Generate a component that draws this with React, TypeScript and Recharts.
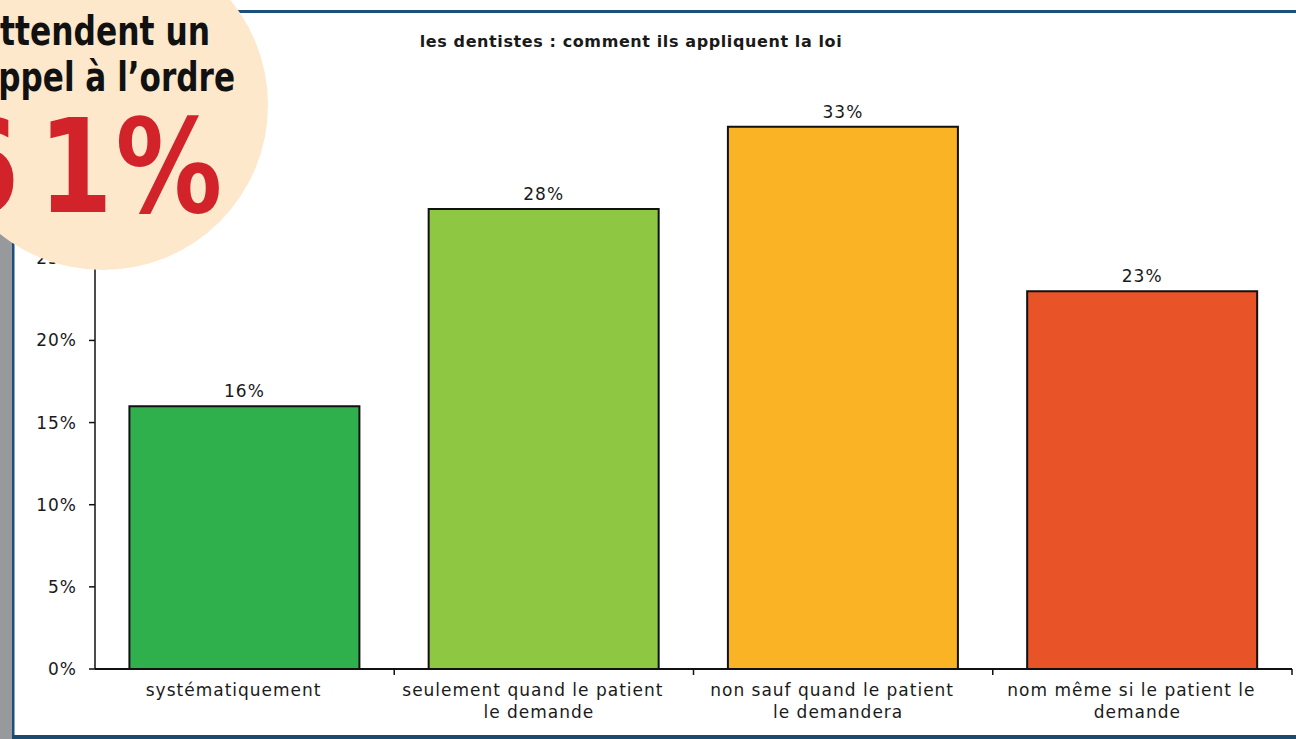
import React from 'react';
import { BarChart, Bar, XAxis, YAxis, Cell, LabelList } from 'recharts';

// données
const categories = [
  'systématiquement',
  'seulement quand le patient\nle demande',
  'non sauf quand le patient\nle demandera',
  'nom même si le patient le\ndemande',
];
const shares = [16, 28, 33, 23];
const barColors = ['#2fb04c', '#8ec843', '#f9b324', '#e85428'];
const yTicks = [0, 5, 10, 15, 20, 25, 30, 35];
const chartTitle = 'les dentistes : comment ils appliquent la loi';
const calloutLines = ['attendent un', 'rappel à l’ordre'];
const calloutValue = '61%';

const data = categories.map((name, i) => ({ name, share: shares[i] }));

const FONT = "'DejaVu Sans', Verdana, sans-serif";
const NARROW = "'Liberation Sans Narrow', 'DejaVu Sans Condensed', 'Liberation Sans', sans-serif";
const INK = '#1a1a1a';

const CategoryTick = (props: any) => {
  const { x, y, payload } = props;
  const half = payload && payload.offset ? payload.offset : 149.6;
  const lines = String(payload.value).split('\n');
  return (
    <g>
      <line x1={x + half} x2={x + half} y1={y - 8} y2={y - 2} stroke="#111" strokeWidth={1.5} />
      <text x={x} y={y} textAnchor="middle" fontSize={17} fill={INK} fontFamily={FONT} letterSpacing={1}>
        {lines.map((line, i) => (
          <tspan key={i} x={x + (i === 0 ? -11 : -5)} dy={i === 0 ? 19 : 22}>
            {line}
          </tspan>
        ))}
      </text>
    </g>
  );
};

export default function App() {
  return (
    <div
      style={{
        position: 'absolute',
        left: 0,
        top: 0,
        width: 1296,
        height: 739,
        overflow: 'hidden',
        background: '#fff',
      }}
    >
      {/* cadre */}
      <svg width={1296} height={739} style={{ position: 'absolute', left: 0, top: 0 }}>
        <rect x={0} y={0} width={12} height={739} fill="#97999c" />
        <rect x={12} y={10} width={2.5} height={729} fill="#1d4f7c" />
        <rect x={0} y={10} width={1296} height={3} fill="#1d4f7c" />
        <rect x={12} y={735} width={1284} height={4} fill="#1b4a6e" />
        <text x={631} y={47} textAnchor="middle" fontSize={16} fontWeight="bold" fill={INK} fontFamily={FONT} letterSpacing={0.6}>
          {chartTitle}
        </text>
      </svg>

      <div style={{ position: 'absolute', left: 0, top: 0 }}>
        <BarChart
          width={1296}
          height={739}
          data={data}
          margin={{ top: 94, right: 4, bottom: 0, left: 0 }}
          barCategoryGap="11.5%"
        >
          <XAxis
            dataKey="name"
            interval={0}
            height={70}
            tickLine={false}
            tickSize={6}
            tickMargin={2}
            axisLine={{ stroke: '#111', strokeWidth: 2 }}
            tick={<CategoryTick />}
          />
          <YAxis
            width={95}
            domain={[0, 35]}
            ticks={yTicks}
            interval={0}
            tickFormatter={(v: number) => `${v}%`}
            tickSize={6}
            tickMargin={12}
            axisLine={{ stroke: '#111', strokeWidth: 1.5 }}
            tickLine={{ stroke: '#111', strokeWidth: 1.5 }}
            tick={{ fontSize: 17, fill: INK, fontFamily: FONT, letterSpacing: 1 }}
          />
          <Bar dataKey="share" stroke="#111" strokeWidth={2} isAnimationActive={false}>
            {data.map((d, i) => (
              <Cell key={d.name} fill={barColors[i]} />
            ))}
            <LabelList
              dataKey="share"
              position="top"
              offset={9}
              formatter={(v: any) => `${v}%`}
              style={{ fontSize: 17, fill: INK, fontFamily: FONT, letterSpacing: 1 }}
            />
          </Bar>
        </BarChart>
      </div>

      {/* pastille */}
      <svg width={1296} height={739} style={{ position: 'absolute', left: 0, top: 0, pointerEvents: 'none' }}>
        <circle cx={103} cy={105} r={165} fill="#fde8cb" />
        <text x={-21} y={45} fontSize={41} fontWeight="bold" fill="#111" fontFamily={NARROW} textLength={231} lengthAdjust="spacingAndGlyphs">
          {calloutLines[0]}
        </text>
        <text x={-38} y={91} fontSize={41} fontWeight="bold" fill="#111" fontFamily={NARROW} textLength={273} lengthAdjust="spacingAndGlyphs">
          {calloutLines[1]}
        </text>
        <g transform="scale(0.82,1)">
          <text x="-67 47 141" y={212} fontSize={130} fontWeight="bold" fill="#d2232a" fontFamily={FONT}>
            {calloutValue}
          </text>
        </g>
      </svg>
    </div>
  );
}
